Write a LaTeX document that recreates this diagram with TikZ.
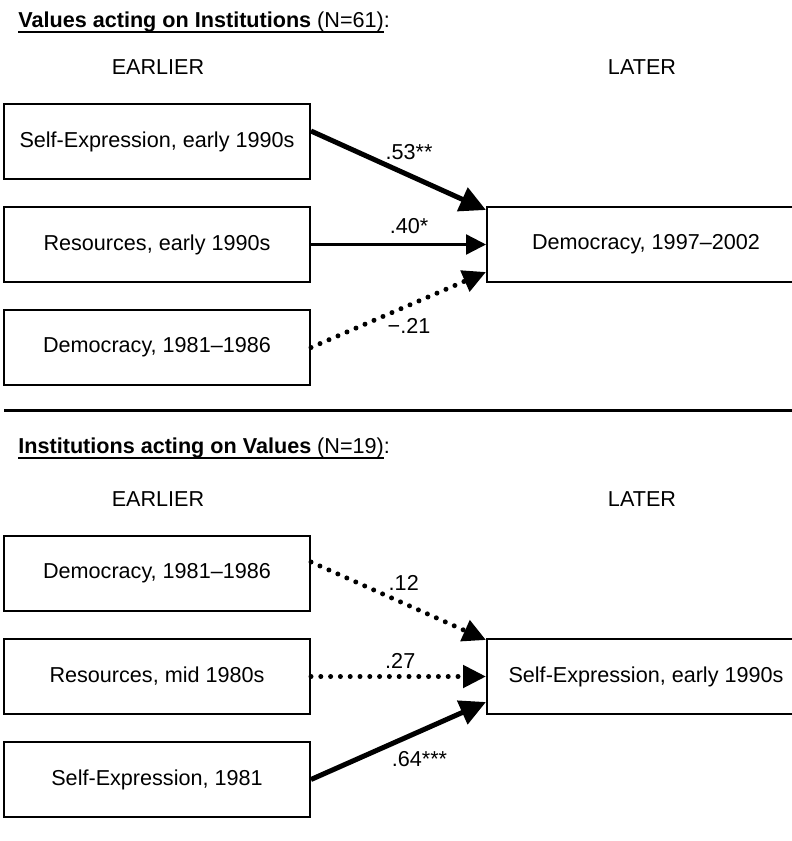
\documentclass[tikz,border=0pt]{standalone}
\usepackage{fontspec}
\setmainfont{Liberation Sans}
\usetikzlibrary{arrows.meta,positioning}
\newcommand\ulfig[1]{\setbox0\hbox{#1}\leavevmode\rlap{\raisebox{-3.2pt}{\rule{\wd0}{1pt}}}\box0}
\tikzset {
	box/.style={rectangle, draw, line width=1pt, minimum width=153pt, minimum height=37.5pt, inner sep=0pt},
	rbox/.style={box, minimum width=159pt},
	heading/.style={anchor=base west, inner sep=0pt},
	strong/.style={line width=2.5pt, -{Triangle[length=13pt,width=12.5pt]}},
	plain/.style={line width=1.2pt, -{Triangle[length=10pt,width=10pt]}},
	weak/.style={line width=2.5pt, line cap=round, dash pattern=on 0pt off 4.9pt, -{Triangle[length=11.5pt,width=11pt]}},
	coef/.style={inner sep=0pt}
}

\begin{document}
\begin{tikzpicture}[x=0.5pt, y=-0.5pt, font=\fontsize{10.8}{13}\selectfont, node distance=13pt]
					\useasboundingbox (0,0) rectangle (792,841);
					\clip (0,0) rectangle (792,841);
					% values acting on institutions
					\node [heading] (title1) at (18,27) {\ulfig{\textbf{Values acting on Institutions} (N=61)}:};
					\node [anchor=base] (early1) at (158,74) {EARLIER};
					\node [anchor=base] (late1) at (642,74) {LATER};
					\node [box] (selfexp1) at (157,141.5) {Self-Expression, early 1990s};
					\node [box, below=of selfexp1] (res1) {Resources, early 1990s};
					\node [box, below=of res1] (demo1) {Democracy, 1981--1986};
					\node [rbox, right=87.5pt of res1] (demo2) {Democracy, 1997--2002};
					\draw [strong] ([yshift=5.25pt]selfexp1.east) -- ([yshift=-2pt]demo2.north west)
						node [coef, pos=.56, yshift=11.5pt] {.53**};
					\draw [plain] (res1.east) -- (demo2.west)
						node [coef, pos=.56, yshift=9pt] {.40*};
					\draw [weak] (demo1.east) -- ([yshift=5.5pt]demo2.south west)
						node [coef, pos=.56, yshift=-10.5pt] {−.21};
					\draw [line width=1.5pt] (4,410) -- (792,410);
					% institutions acting on values
					\node [heading] (title2) at (18,453) {\ulfig{\textbf{Institutions acting on Values} (N=19)}:};
					\node [anchor=base] (early2) at (158,506) {EARLIER};
					\node [anchor=base] (late2) at (642,506) {LATER};
					\node [box] (demo3) at (157,573.5) {Democracy, 1981--1986};
					\node [box, below=of demo3] (res2) {Resources, mid 1980s};
					\node [box, below=of res2] (selfexp3) {Self-Expression, 1981};
					\node [rbox, right=87.5pt of res2] (selfexp2) {Self-Expression, early 1990s};
					\draw [weak] ([yshift=5.75pt]demo3.east) -- ([yshift=-1pt]selfexp2.north west)
						node [coef, pos=.53, yshift=10pt] {.12};
					\draw [weak] (res2.east) -- (selfexp2.west)
						node [coef, pos=.51, yshift=8pt] {.27};
					\draw [strong] (selfexp3.east) -- ([yshift=6.5pt]selfexp2.south west)
						node [coef, pos=.62, yshift=-13.75pt] {.64***};
					\end{tikzpicture}
\end{document}
